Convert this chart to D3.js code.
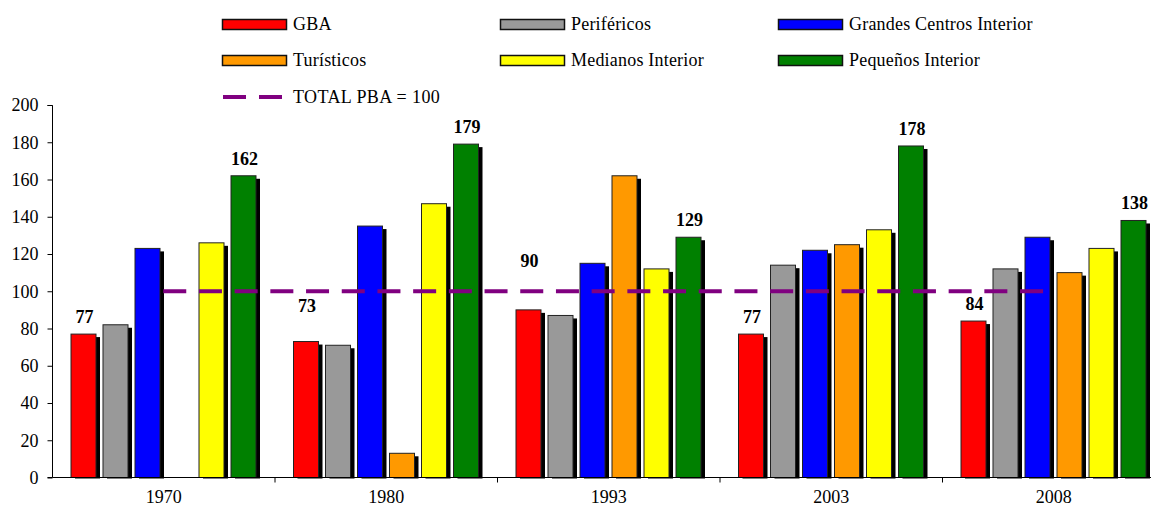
<!DOCTYPE html>
<html><head><meta charset="utf-8">
<script src="https://cdn.jsdelivr.net/npm/d3@7"></script>
<style>
html,body{margin:0;padding:0;background:#fff;overflow:hidden}
svg{display:block;font-family:"Liberation Serif","Times New Roman",serif}
</style></head>
<body>
<svg id="chart" width="1151" height="508"></svg>
<script>
// ---- data ----
const years = ["1970","1980","1993","2003","2008"];
const seriesNames = ["GBA","Periféricos","Grandes Centros Interior","Turísticos","Medianos Interior","Pequeños Interior"];
const seriesColors = ["#ff0000","#999999","#0000ff","#ff9900","#ffff00","#008000"];
const gba        = [77, 73, 90, 77, 84];
const perifericos= [82, 71, 87, 114, 112];
const grandes    = [123, 135, 115, 122, 129];
const turisticos = [null, 13, 162, 125, 110];
const medianos   = [126, 147, 112, 133, 123];
const pequenos   = [162, 179, 129, 178, 138];
const gbaLabels  = ["77","73","90","77","84"];
const pequenosLabels = ["162","179","129","178","138"];
const totalPBA = 100;
const yTicks = [0,20,40,60,80,100,120,140,160,180,200];

const seriesValues = [gba, perifericos, grandes, turisticos, medianos, pequenos];

// ---- layout ----
const svg = d3.select("#chart");
const x0 = d3.scaleBand().domain(years).range([52.5, 1165]).paddingInner(0).paddingOuter(0);
const x1 = d3.scaleBand().domain(d3.range(6)).range([18.5, 203.5]).paddingInner(0.21875).paddingOuter(0);
const y = d3.scaleLinear().domain([0,200]).range([477.5,105]);

// bars
const g = svg.append("g");
years.forEach((yr, i) => {
  const grp = g.append("g").attr("transform", `translate(${x0(yr)},0)`);
  seriesValues.forEach((arr, s) => {
    const v = arr[i];
    if (v == null) return;
    const bx = x1(s), bw = x1.bandwidth();
    grp.append("rect")
      .attr("x", bx + 4).attr("y", y(v) + 3)
      .attr("width", bw).attr("height", y(0) - y(v) - 2)
      .attr("fill", "#000");
    grp.append("rect")
      .attr("x", bx).attr("y", y(v))
      .attr("width", bw).attr("height", y(0) - y(v))
      .attr("fill", seriesColors[s]).attr("stroke", "#222").attr("stroke-width", 1);
  });
});

// axes
const yAxis = d3.axisLeft(y).tickValues(yTicks).tickSize(5).tickPadding(9).tickFormat(d3.format("d"));
const ya = svg.append("g").attr("transform","translate(52.5,0)").call(yAxis);
ya.attr("font-family", null);
ya.select(".domain").attr("stroke","#000").attr("d","M-5,105.5H0V477.5H-5");
ya.selectAll("text").attr("font-size","18px").attr("fill","#000");

const xa = svg.append("g").attr("transform","translate(0,477.5)");
xa.append("line").attr("x1",52.5).attr("x2",1165).attr("stroke","#000");
years.slice(1).forEach(yr => {
  xa.append("line").attr("x1",x0(yr)).attr("x2",x0(yr)).attr("y1",0).attr("y2",5).attr("stroke","#000");
});
xa.selectAll("text.cat").data(years).enter().append("text")
  .attr("class","cat")
  .attr("x", d => x0(d) + x0.bandwidth()/2)
  .attr("y", 25)
  .attr("text-anchor","middle")
  .attr("font-size","18px")
  .text(d => d);

// total line
svg.append("line")
  .attr("x1", x0("1970") + x0.bandwidth()/2 - 0.5)
  .attr("x2", x0("2008") + x0.bandwidth()/2)
  .attr("y1", y(totalPBA)).attr("y2", y(totalPBA))
  .attr("stroke","#800080").attr("stroke-width",4)
  .attr("stroke-dasharray","23,12.7");

// value labels
const labelNudge = {"1980":19, "1993":32};
years.forEach((yr, i) => {
  const gx = x0(yr);
  const bw = x1.bandwidth();
  svg.append("text")
    .attr("x", gx + x1(0) + bw/2 + 1)
    .attr("y", y(gba[i]) - 11 - (labelNudge[yr] || 0))
    .attr("text-anchor","middle").attr("font-weight","bold").attr("font-size","18px")
    .text(gbaLabels[i]);
  svg.append("text")
    .attr("x", gx + x1(5) + bw/2 + 1)
    .attr("y", y(pequenos[i]) - 11)
    .attr("text-anchor","middle").attr("font-weight","bold").attr("font-size","18px")
    .text(pequenosLabels[i]);
});

// legend
const legCols = [222, 500, 778];
const legRows = [19, 55];
seriesNames.forEach((name, s) => {
  const cx = legCols[s % 3], ry = legRows[Math.floor(s / 3)];
  svg.append("rect").attr("x", cx + 0.5).attr("y", ry + 0.5).attr("width", 64).attr("height", 10)
    .attr("fill", seriesColors[s]).attr("stroke","#111").attr("stroke-width",1.5);
  svg.append("text").attr("x", cx + 71).attr("y", ry + 11)
    .attr("font-size","18px").attr("letter-spacing","0.2px").text(name);
});
svg.append("line").attr("x1",223).attr("x2",282).attr("y1",97).attr("y2",97)
  .attr("stroke","#800080").attr("stroke-width",4).attr("stroke-dasharray","23,13");
svg.append("text").attr("x",293).attr("y",103).attr("font-size","18px").attr("letter-spacing","0.4px")
  .text("TOTAL PBA = 100");
</script>
</body></html>
